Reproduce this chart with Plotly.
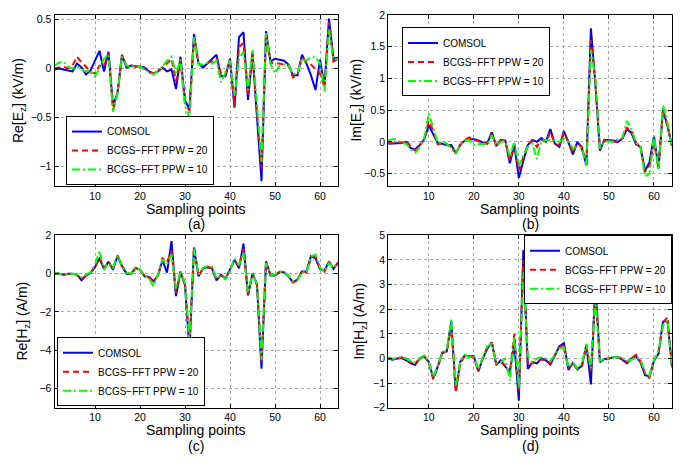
import plotly.graph_objects as go

x = list(range(1, 65))

# ---------------- (a) Re[Ez] ----------------
a_comsol = [-0.01, 0.00, -0.01, -0.02, -0.03, 0.05, 0.01, -0.06, -0.02, 0.08,
            0.18, -0.03, 0.17, -0.38, -0.25, 0.14, 0.01, 0.03, 0.02, 0.02,
            0.01, -0.03, -0.05, -0.03, 0.01, -0.03, -0.01, -0.21, 0.12, -0.33,
            -0.41, 0.35, 0.05, 0.01, 0.05, 0.09, 0.14, -0.08, -0.08, 0.10,
            -0.40, 0.32, 0.37, -0.32, 0.16, -0.50, -1.15, 0.38, 0.07, 0.10,
            0.09, 0.08, 0.04, -0.07, -0.07, 0.14, 0.05, -0.07, -0.22, 0.09,
            -0.18, 0.51, 0.10, 0.11]
a_ppw20 = [0.00, 0.01, 0.02, 0.00, 0.03, 0.12, 0.06, 0.02, -0.04, -0.05,
           0.03, 0.02, 0.16, -0.42, -0.26, 0.13, 0.03, 0.03, 0.02, 0.01,
           0.00, -0.04, -0.05, -0.02, 0.00, 0.05, 0.10, -0.13, 0.08, -0.35,
           -0.43, 0.30, 0.05, 0.03, 0.06, 0.07, 0.10, -0.05, -0.06, 0.08,
           -0.38, 0.22, 0.26, -0.28, 0.14, -0.45, -1.02, 0.33, 0.06, 0.05,
           0.05, 0.04, 0.03, -0.09, -0.07, 0.12, 0.06, 0.04, 0.00, -0.05,
           -0.19, 0.47, 0.07, 0.10]
a_ppw10 = [0.03, 0.06, 0.07, 0.02, 0.00, 0.02, -0.01, -0.03, -0.02, -0.08,
           0.00, 0.10, 0.14, -0.44, -0.25, 0.12, 0.03, 0.02, 0.02, 0.02,
           -0.01, -0.04, -0.06, -0.03, 0.02, 0.08, 0.12, -0.05, 0.09, -0.38,
           -0.50, 0.32, 0.04, 0.04, 0.06, 0.05, 0.08, -0.14, -0.04, 0.08,
           -0.28, 0.10, 0.17, -0.22, 0.19, -0.40, -0.95, 0.36, 0.05, -0.05,
           0.03, 0.04, 0.03, -0.06, -0.05, 0.10, 0.08, 0.12, 0.12, 0.05,
           -0.23, 0.40, 0.09, 0.10]

# ---------------- (b) Im[Ez] ----------------
b_comsol = [-0.03, -0.03, -0.03, -0.02, 0.00, -0.10, -0.12, -0.05, 0.04, 0.26,
            0.12, -0.02, -0.03, -0.05, -0.05, -0.18, -0.05, 0.02, 0.04, 0.04,
            0.02, -0.01, -0.02, 0.15, -0.07, 0.03, 0.02, -0.34, -0.05, -0.57,
            -0.30, -0.05, 0.03, 0.00, 0.06, 0.00, 0.20, -0.03, -0.08, 0.17,
            -0.01, -0.20, 0.00, -0.10, -0.37, 1.79, 0.90, -0.14, 0.03, 0.03,
            0.02, 0.00, 0.05, 0.20, 0.14, -0.04, -0.08, -0.46, -0.32, 0.09,
            -0.42, 0.50, 0.25, -0.06]
b_ppw20 = [-0.01, -0.02, 0.00, -0.02, 0.02, -0.08, -0.14, -0.06, 0.03, 0.33,
           0.18, -0.04, -0.02, -0.05, -0.08, -0.17, -0.04, 0.03, 0.07, 0.03,
           0.01, -0.02, -0.03, 0.12, -0.05, 0.02, 0.01, -0.30, -0.03, -0.45,
           -0.25, -0.04, 0.02, -0.08, 0.03, 0.00, 0.15, -0.03, -0.05, 0.14,
           0.00, -0.17, -0.02, -0.08, -0.33, 1.60, 0.95, -0.12, 0.03, 0.02,
           0.00, -0.01, 0.06, 0.22, 0.18, -0.02, -0.08, -0.48, -0.38, -0.02,
           -0.40, 0.52, 0.25, -0.08]
b_ppw10 = [0.02, 0.04, 0.04, -0.02, -0.03, -0.12, -0.17, -0.08, 0.05, 0.45,
           0.22, -0.02, 0.00, -0.03, -0.10, -0.18, -0.05, 0.02, 0.03, -0.05,
           -0.04, -0.03, -0.04, 0.10, -0.06, 0.00, 0.01, -0.24, 0.00, -0.38,
           -0.22, -0.08, -0.03, -0.27, 0.02, 0.03, 0.03, 0.03, 0.00, 0.05,
           0.00, -0.10, -0.08, -0.10, -0.38, 1.45, 1.00, -0.10, 0.00, 0.01,
           0.00, 0.04, 0.07, 0.33, 0.20, -0.02, -0.06, -0.55, -0.50, 0.10,
           -0.45, 0.58, 0.30, -0.10]

# ---------------- (c) Re[Hz] ----------------
c_comsol = [0.00, 0.00, -0.05, 0.00, 0.00, -0.05, -0.34, -0.10, 0.03, 0.34,
            0.80, 0.24, 0.63, 0.20, 0.92, 0.40, 0.00, -0.02, 0.30, 0.20,
            -0.14, -0.17, -0.40, -0.10, 0.70, 0.05, 1.70, -1.17, 0.10, -0.60,
            -4.00, 1.37, -0.14, 0.28, 0.34, 0.28, -0.35, -0.05, -0.27, 0.20,
            0.72, 0.28, 1.57, -1.13, 0.03, -0.57, -4.96, 0.65, -0.10, -0.10,
            0.07, 0.08, -0.14, -0.45, -0.30, 0.12, 0.12, 0.92, 0.80, 0.24,
            0.17, 0.63, 0.25, 0.60]
c_ppw20 = [0.05, 0.00, -0.05, -0.02, 0.00, -0.05, -0.30, -0.08, 0.04, 0.38,
           0.90, 0.28, 0.60, 0.25, 0.95, 0.40, 0.05, -0.02, 0.30, 0.20,
           -0.12, -0.20, -0.45, -0.08, 0.80, 0.60, 1.20, -1.00, 0.12, -0.55,
           -3.70, 1.40, -0.10, 0.25, 0.35, 0.30, -0.30, -0.10, -0.25, 0.20,
           0.70, 0.40, 1.30, -1.10, 0.00, -0.60, -4.60, 0.60, -0.05, -0.05,
           0.10, 0.10, -0.10, -0.45, -0.35, 0.15, 0.05, 0.85, 0.90, 0.30,
           0.10, 0.60, 0.30, 0.55]
c_ppw10 = [0.05, -0.02, -0.05, 0.00, 0.00, -0.03, -0.18, -0.06, 0.08, 0.45,
           1.20, 0.20, 0.55, 0.30, 0.95, 0.45, 0.05, 0.00, 0.33, 0.20,
           -0.10, -0.25, -0.65, -0.05, 0.75, 0.50, 1.00, -0.80, 0.12, -0.50,
           -3.60, 1.30, -0.05, 0.30, 0.40, 0.35, -0.25, -0.10, -0.30, 0.15,
           0.80, 0.45, 1.10, -1.00, 0.00, -0.55, -4.50, 0.55, -0.05, -0.05,
           0.10, 0.08, -0.10, -0.40, -0.35, 0.10, 0.05, 0.90, 1.00, 0.30,
           0.10, 0.55, 0.30, 0.60]

# ---------------- (d) Im[Hz] ----------------
d_comsol = [0.00, -0.05, 0.00, 0.02, -0.07, -0.20, -0.26, 0.00, 0.09, -0.13,
            -0.80, -0.33, 0.24, 0.29, 1.50, -1.32, -0.13, 0.13, 0.07, 0.09,
            -0.52, 0.00, 0.40, 0.66, -0.26, -0.07, -0.33, -0.53, 0.60, -1.71,
            4.40, -0.42, -0.15, -0.20, 0.00, -0.07, -0.25, 0.15, 0.50, 0.62,
            -0.46, -0.18, -0.43, -0.30, 0.55, -1.05, 3.05, -0.15, -0.02, 0.00,
            0.05, 0.05, -0.05, -0.20, 0.00, 0.10, -0.15, -0.68, -0.72, -0.10,
            0.20, 1.50, 1.52, -0.35]
d_ppw20 = [0.00, -0.03, 0.02, 0.05, -0.05, -0.15, -0.20, 0.00, 0.10, -0.15,
           -0.85, -0.35, 0.20, 0.30, 1.30, -1.35, -0.20, 0.10, 0.10, 0.10,
           -0.50, 0.05, 0.45, 0.65, -0.25, -0.15, -0.30, -0.60, 1.00, -1.30,
           4.00, -0.30, -0.20, -0.10, -0.05, -0.05, -0.20, 0.10, 0.45, 0.55,
           -0.40, -0.20, -0.45, -0.30, 0.50, -0.50, 2.70, -0.10, -0.05, -0.02,
           0.05, 0.05, 0.00, -0.15, 0.00, 0.15, -0.10, -0.60, -0.80, -0.05,
           0.25, 1.45, 1.68, -0.30]
d_ppw10 = [0.05, 0.00, 0.00, 0.07, 0.00, -0.10, -0.15, 0.02, 0.12, -0.10,
           -0.75, -0.30, 0.20, 0.35, 1.60, -1.10, -0.15, 0.15, 0.05, 0.12,
           -0.45, 0.05, 0.50, 0.60, -0.20, -0.15, 0.00, -0.90, 0.90, -1.20,
           3.50, 0.10, -0.15, 0.00, 0.05, 0.00, -0.10, 0.15, 0.40, 0.45,
           -0.35, -0.15, -0.40, -0.20, 0.60, -0.40, 2.50, -0.10, 0.00, 0.00,
           0.05, 0.05, 0.00, -0.10, -0.05, 0.05, -0.05, -0.55, -0.70, -0.05,
           0.30, 1.35, 1.55, -0.40]

series_names = ["COMSOL", "BCGS\u2212FFT PPW = 20", "BCGS\u2212FFT PPW = 10"]
panels = [
    (a_comsol, a_ppw20, a_ppw10),
    (b_comsol, b_ppw20, b_ppw10),
    (c_comsol, c_ppw20, c_ppw10),
    (d_comsol, d_ppw20, d_ppw10),
]
x_title = "Sampling points"
y_titles = ["Re[E<sub>z</sub>] (kV/m)", "Im[E<sub>z</sub>] (kV/m)",
            "Re[H<sub>z</sub>] (A/m)", "Im[H<sub>z</sub>] (A/m)"]
y_ranges = [[-1.2, 0.545], [-0.7, 2.0], [-7, 2], [-2, 5]]
y_ticks = [[-1, -0.5, 0, 0.5], [-0.5, 0, 0.5, 1, 1.5, 2],
           [-6, -4, -2, 0, 2], [-2, -1, 0, 1, 2, 3, 4, 5]]
x_ticks = [10, 20, 30, 40, 50, 60]
panel_labels = ["(a)", "(b)", "(c)", "(d)"]

W, H = 697, 461
xdom = [[54.5 / W, 338 / W], [388.2 / W, 672 / W]]
ydom = [[1 - 185 / H, 1 - 9.3 / H], [1 - 412.5 / H, 1 - 235.5 / H]]

colors = ["#0000FF", "#FF0000", "#00FF00"]
dashes = ["solid", "6px,4px", "8px,3px,2px,3px"]

FONT = "Liberation Sans, Arial, Helvetica, sans-serif"

# legend anchor (x, y, xanchor) in pixels
legend_pos = [
    (66, 113, "left"),
    (402, 22, "left"),
    (57, 340, "left"),
    (672, 235.5, "right"),
]
ytitle_x = [18.5, 357, 23, 360]

fig = go.Figure()
annotations = []
for k, data in enumerate(panels):
    sfx = "" if k == 0 else str(k + 1)
    lg = "legend" + sfx
    for j, vals in enumerate(data):
        fig.add_trace(go.Scatter(
            x=x, y=vals, mode="lines", name=series_names[j],
            line=dict(color=colors[j], width=2, dash=dashes[j]),
            xaxis="x" + sfx, yaxis="y" + sfx, legend=lg,
        ))
    col = k % 2
    row = k // 2
    axis_common = dict(
        showline=True, linecolor="black", linewidth=1, mirror="ticks",
        ticks="inside", ticklen=4, tickcolor="black",
        showgrid=True, gridcolor="#a8a8a8", griddash="dot", gridwidth=1,
        zeroline=False, tickfont=dict(family=FONT, size=10.5, color="black"),
    )
    fig.layout["xaxis" + sfx] = dict(
        axis_common, domain=xdom[col], anchor="y" + sfx,
        range=[1, 64], tickvals=x_ticks,
    )
    fig.layout["yaxis" + sfx] = dict(
        axis_common, domain=ydom[row], anchor="x" + sfx,
        range=y_ranges[k], tickvals=y_ticks[k],
    )
    lx, ly, xa = legend_pos[k]
    fig.layout[lg] = dict(
        x=lx / W, y=1 - ly / H, xanchor=xa, yanchor="top",
        bgcolor="white", bordercolor="black", borderwidth=1,
        font=dict(family=FONT, size=10, color="black"),
        tracegroupgap=0, itemwidth=30,
    )
    cx = (xdom[col][0] + xdom[col][1]) / 2
    cy_plot = (ydom[row][0] + ydom[row][1]) / 2
    annotations.append(dict(
        text=y_titles[k], x=ytitle_x[k] / W, y=cy_plot,
        xref="paper", yref="paper", textangle=-90, showarrow=False,
        font=dict(family=FONT, size=14, color="black"),
        xanchor="center", yanchor="middle",
    ))
    off = 0 if row == 0 else 227.5
    annotations.append(dict(
        text=x_title, x=cx, y=1 - (208 + off) / H,
        xref="paper", yref="paper", showarrow=False,
        font=dict(family=FONT, size=14, color="black"),
        xanchor="center", yanchor="middle",
    ))
    annotations.append(dict(
        text=panel_labels[k], x=cx, y=1 - (224 + off) / H,
        xref="paper", yref="paper", showarrow=False,
        font=dict(family=FONT, size=14, color="black"),
        xanchor="center", yanchor="middle",
    ))

fig.update_layout(
    width=W, height=H, autosize=False,
    margin=dict(l=0, r=0, t=0, b=0),
    paper_bgcolor="white", plot_bgcolor="white",
    annotations=annotations,
    font=dict(family=FONT, color="black"),
)

fig.write_html("out.html")
